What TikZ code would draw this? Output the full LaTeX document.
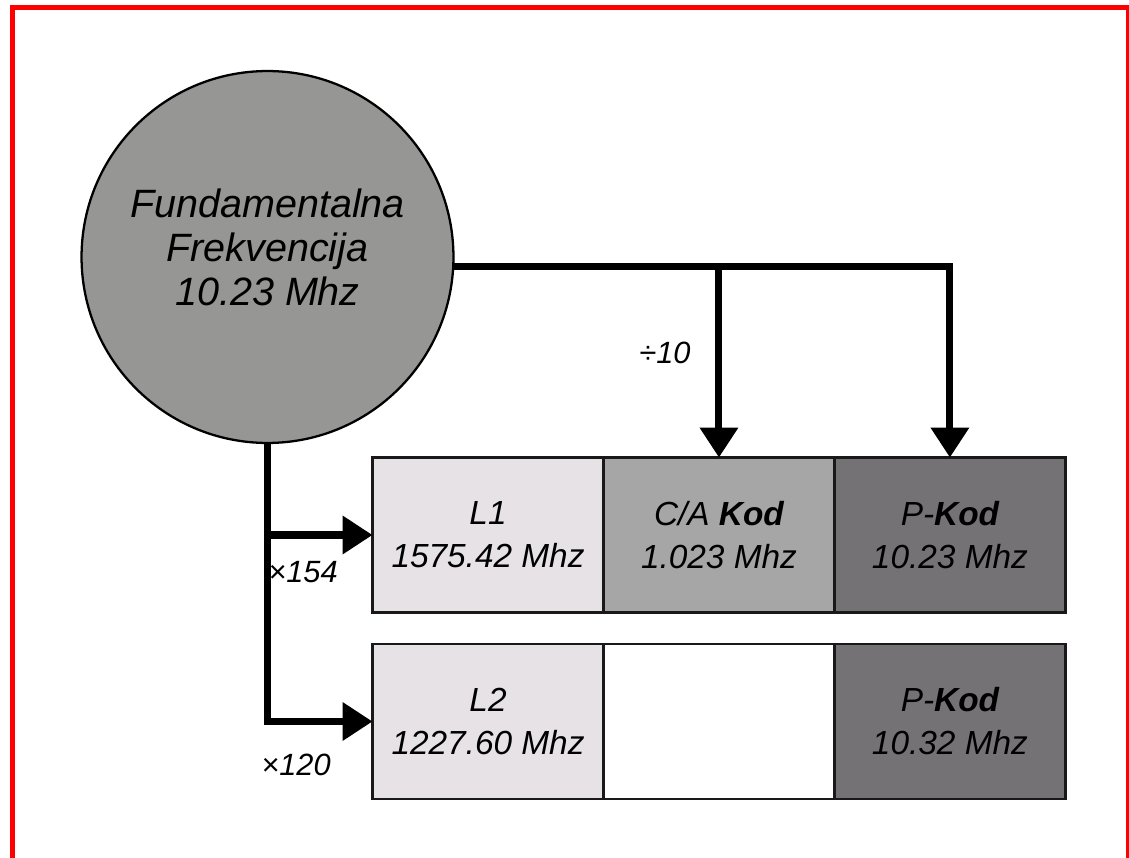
\documentclass[tikz,border=0pt]{standalone}
\usepackage{fontspec}
\setmainfont{Liberation Sans}
\usepackage{xcolor}
\usepackage{tikz}
\usetikzlibrary{arrows.meta,positioning}
\definecolor{framered} {RGB}{255,0,0}
\definecolor{basegray} {RGB}{150,151,148}
\definecolor{carrlight}{RGB}{230,226,230}
\definecolor{cagray}   {RGB}{166,166,166}
\definecolor{pgray}    {RGB}{117,114,117}
\tikzset{
  % Fundamental oscillator circle
  basecirc/.style={circle, draw=black, line width=1.3pt, fill=basegray,
                   minimum size=7.44cm, inner sep=0pt, align=center,
                   text depth=0.4cm,
                   font=\fontsize{22.5}{25}\selectfont\itshape},
  % Signal component box
  sigbox/.style={rectangle, draw=black!90, line width=1.4pt, fill=#1,
                 minimum width=4.62cm, minimum height=3.1cm, outer sep=0pt,
                 align=center, font=\fontsize{19}{24.5}\selectfont\itshape},
  sigbox/.default=white,
  % Multiplier / divider labels
  factor/.style={font=\fontsize{17.5}{20}\selectfont\itshape},
  % Arrows
  arr/.style={-{Triangle[length=0.6cm,width=0.74cm]}, line width=4pt},
}

\begin{document}
\begin{tikzpicture}[x=0.02cm,y=-0.02cm]
    \useasboundingbox (0,0) rectangle (1129,858);

    % ── Red frame (open at the bottom) ─────────────────────
    \draw[framered,line width=2.8pt] (12.5,858) -- (12.5,7.5) -- (1129,7.5);
    \draw[framered,line width=1.3pt] (1127.5,7.5) -- (1127.5,858);

    % ── Fundamental frequency ──────────────────────────────
    \node[basecirc] (fund) at (267.5,257)
          {Fundamentalna\\Frekvencija\\10.23 Mhz};

    % ── L1 row ─────────────────────────────────────────────
    \node[sigbox=carrlight] (l1) at (488,535) {L1\\1575.42 Mhz};
    \node[sigbox=cagray, right=0pt of l1] (ca) {C/A \textbf{Kod}\\1.023 Mhz};
    \node[sigbox=pgray, right=0pt of ca] (p1) {P-\textbf{Kod}\\10.23 Mhz};

    % ── L2 row ─────────────────────────────────────────────
    \node[sigbox=carrlight] (l2) at (488,721.5) {L2\\1227.60 Mhz};
    \node[sigbox, right=0pt of l2] (blank) {};
    \node[sigbox=pgray, right=0pt of blank] (p2) {P-\textbf{Kod}\\10.32 Mhz};

    % ── Connectors ─────────────────────────────────────────
    \draw[arr] (fund.-3) -| (p1.north);
    \draw[arr] (fund.-3 -| ca.north) -- (ca.north);
    \draw[arr] (fund.south) |- (l2.west);
    \draw[arr] (fund.south |- l1.west) -- (l1.west);

    % ── Factor labels ──────────────────────────────────────
    \node[factor] (f154) at (303,572) {×154};
    \node[factor] (f120) at (296,765) {×120};
    \node[factor] (f10)  at (665,353) {÷10};

  \end{tikzpicture}
\end{document}
